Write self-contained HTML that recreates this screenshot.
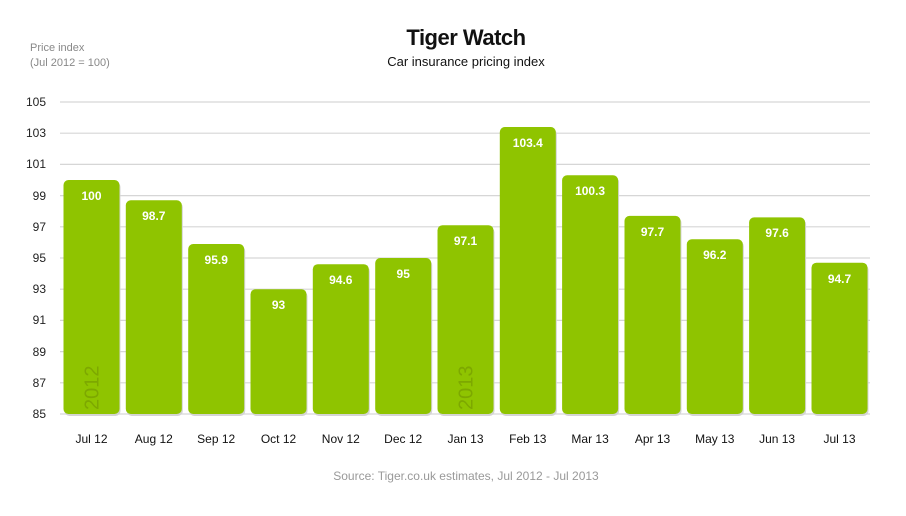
<!DOCTYPE html>
<html><head><style>body{margin:0;background:#fff}svg{display:block}</style></head><body>
<svg width="906" height="516" xmlns="http://www.w3.org/2000/svg" font-family="Liberation Sans, Arial, sans-serif">
<text x="466" y="45" text-anchor="middle" font-size="22" font-weight="bold" fill="#111" letter-spacing="-0.5">Tiger Watch</text>
<text x="466" y="66" text-anchor="middle" font-size="13" fill="#111">Car insurance pricing index</text>
<text x="30" y="51" font-size="11" fill="#888">Price index</text>
<text x="30" y="66" font-size="11" fill="#888">(Jul 2012 = 100)</text>
<g stroke="#d6d6d6" stroke-width="1.2">
<line x1="60" x2="870" y1="102" y2="102"/><line x1="60" x2="870" y1="133.2" y2="133.2"/><line x1="60" x2="870" y1="164.4" y2="164.4"/><line x1="60" x2="870" y1="195.6" y2="195.6"/><line x1="60" x2="870" y1="226.8" y2="226.8"/><line x1="60" x2="870" y1="258" y2="258"/><line x1="60" x2="870" y1="289.2" y2="289.2"/><line x1="60" x2="870" y1="320.4" y2="320.4"/><line x1="60" x2="870" y1="351.6" y2="351.6"/><line x1="60" x2="870" y1="382.8" y2="382.8"/><line x1="60" x2="870" y1="414" y2="414"/>
</g>
<g font-size="12" fill="#222" text-anchor="end">
<text x="46" y="106">105</text><text x="46" y="137">103</text><text x="46" y="168">101</text><text x="46" y="200">99</text><text x="46" y="231">97</text><text x="46" y="262">95</text><text x="46" y="293">93</text><text x="46" y="324">91</text><text x="46" y="356">89</text><text x="46" y="387">87</text><text x="46" y="418">85</text>
</g>
<g fill="#d4d4d4">
<rect x="64.5" y="182" width="56" height="234" rx="5"/>
<rect x="126.8" y="202.3" width="56" height="213.7" rx="5"/>
<rect x="189.2" y="246" width="56" height="170" rx="5"/>
<rect x="251.5" y="291.2" width="56" height="124.8" rx="5"/>
<rect x="313.8" y="266.2" width="56" height="149.8" rx="5"/>
<rect x="376.2" y="260" width="56" height="156" rx="5"/>
<rect x="438.5" y="227.2" width="56" height="188.8" rx="5"/>
<rect x="500.8" y="129" width="56" height="287" rx="5"/>
<rect x="563.1" y="177.3" width="56" height="238.7" rx="5"/>
<rect x="625.5" y="217.9" width="56" height="198.1" rx="5"/>
<rect x="687.8" y="241.3" width="56" height="174.7" rx="5"/>
<rect x="750.1" y="219.4" width="56" height="196.6" rx="5"/>
<rect x="812.5" y="264.7" width="56" height="151.3" rx="5"/>
</g>
<g fill="#8fc400">
<rect x="63.5" y="180" width="56" height="234" rx="5"/>
<rect x="125.8" y="200.3" width="56" height="213.7" rx="5"/>
<rect x="188.2" y="244" width="56" height="170" rx="5"/>
<rect x="250.5" y="289.2" width="56" height="124.8" rx="5"/>
<rect x="312.8" y="264.2" width="56" height="149.8" rx="5"/>
<rect x="375.2" y="258" width="56" height="156" rx="5"/>
<rect x="437.5" y="225.2" width="56" height="188.8" rx="5"/>
<rect x="499.8" y="127" width="56" height="287" rx="5"/>
<rect x="562.1" y="175.3" width="56" height="238.7" rx="5"/>
<rect x="624.5" y="215.9" width="56" height="198.1" rx="5"/>
<rect x="686.8" y="239.3" width="56" height="174.7" rx="5"/>
<rect x="749.1" y="217.4" width="56" height="196.6" rx="5"/>
<rect x="811.5" y="262.7" width="56" height="151.3" rx="5"/>
</g>
<g font-size="12" font-weight="bold" fill="#fff" text-anchor="middle">
<text x="91.5" y="200">100</text>
<text x="153.8" y="220">98.7</text>
<text x="216.2" y="264">95.9</text>
<text x="278.5" y="309">93</text>
<text x="340.8" y="284">94.6</text>
<text x="403.2" y="278">95</text>
<text x="465.5" y="245">97.1</text>
<text x="527.8" y="147">103.4</text>
<text x="590.1" y="195">100.3</text>
<text x="652.5" y="236">97.7</text>
<text x="714.8" y="259">96.2</text>
<text x="777.1" y="237">97.6</text>
<text x="839.5" y="283">94.7</text>
</g>
<g font-size="12" fill="#111" text-anchor="middle">
<text x="91.5" y="443">Jul 12</text>
<text x="153.8" y="443">Aug 12</text>
<text x="216.2" y="443">Sep 12</text>
<text x="278.5" y="443">Oct 12</text>
<text x="340.8" y="443">Nov 12</text>
<text x="403.2" y="443">Dec 12</text>
<text x="465.5" y="443">Jan 13</text>
<text x="527.8" y="443">Feb 13</text>
<text x="590.1" y="443">Mar 13</text>
<text x="652.5" y="443">Apr 13</text>
<text x="714.8" y="443">May 13</text>
<text x="777.1" y="443">Jun 13</text>
<text x="839.5" y="443">Jul 13</text>
</g>
<text transform="translate(98.5,410) rotate(-90)" font-size="20" fill="#7da800">2012</text>
<text transform="translate(472.5,410) rotate(-90)" font-size="20" fill="#7da800">2013</text>
<text x="466" y="480" text-anchor="middle" font-size="12" fill="#999">Source: Tiger.co.uk estimates, Jul 2012 - Jul 2013</text>
</svg>
</body></html>
